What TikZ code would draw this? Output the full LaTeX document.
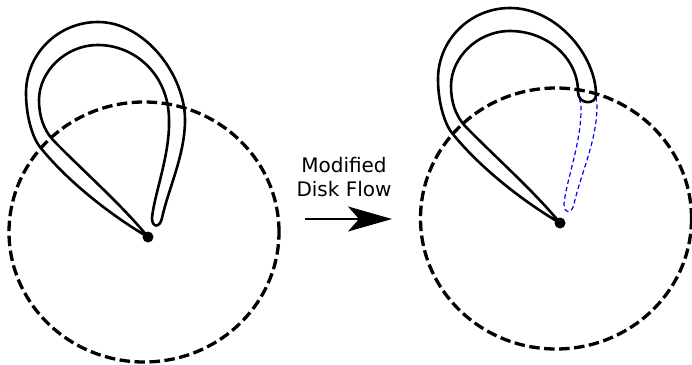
\documentclass[tikz,border=0pt]{standalone}
\usepackage{fontspec}
\setmainfont{DejaVu Sans}
\usetikzlibrary{arrows.meta,shapes.geometric}
\begin{document}
\begin{tikzpicture}[x=1pt,y=-1pt,
  disk/.style={line width=3.3pt,dash pattern=on 10.5pt off 4.5pt},
  band/.style={line width=2.6pt,line join=round,line cap=round},
  hidden/.style={draw=blue,line width=1.2pt,dash pattern=on 4.5pt off 3pt},
  dotmark/.style={circle,fill=black,inner sep=0pt,minimum size=11pt},
  lbl/.style={font=\fontsize{20}{24.5}\selectfont,align=center}]
\useasboundingbox (0,0) rectangle (692,364);

% ---------- left figure ----------
\node[draw,disk,ellipse,minimum width=270pt,minimum height=260pt,inner sep=0pt] (diskL) at (144,232) {};
\draw[band] (148,237) .. controls (112,216) and (68,182) .. (40,147)
  .. controls (32,137) and (26,115) .. (26,93)
  .. controls (26,54) and (58,22) .. (98,22)
  .. controls (145,22) and (185,75) .. (185,120)
  .. controls (185,155) and (168,190) .. (162,218)
  .. controls (160,228) and (152,228) .. (152,218)
  .. controls (154,195) and (170,155) .. (169,120)
  .. controls (169,75) and (135,45) .. (98,45)
  .. controls (65,45) and (39,72) .. (39,100)
  .. controls (39,115) and (43,129) .. (53,140)
  .. controls (81,169) and (122,205) .. (148,237);
\node[dotmark] (pL) at (148,237) {};

% ---------- arrow ----------
\node[lbl] (txt) at (344,177) {Modified\\Disk Flow};
\coordinate (a0) at (305,219);
\coordinate (a1) at (392,219);
\draw[line width=2pt,-{Stealth[length=44pt,width=25pt,inset=11pt]}] (a0) -- (a1);

% ---------- right figure ----------
\begin{scope}[shift={(412,-14)}]
\node[draw,disk,ellipse,minimum width=271pt,minimum height=261pt,inner sep=0pt] (diskR) at (144,232.5) {};
\draw[hidden] (184,111) -- (185,120)
  .. controls (185,155) and (168,190) .. (162,218)
  .. controls (160,228) and (152,228) .. (152,218)
  .. controls (154,195) and (170,155) .. (169,120) -- (167,110);
\draw[band] (148,237) .. controls (112,216) and (68,182) .. (40,147)
  .. controls (32,137) and (26,115) .. (26,93)
  .. controls (26,54) and (58,22) .. (98,22)
  .. controls (145,22) and (184,70) .. (184,109)
  .. controls (184,119) and (166,119) .. (166,106)
  .. controls (166,72) and (135,45) .. (98,45)
  .. controls (65,45) and (39,72) .. (39,100)
  .. controls (39,115) and (43,129) .. (53,140)
  .. controls (81,169) and (122,205) .. (148,237);
\node[dotmark] (pR) at (148,237) {};
\end{scope}
\end{tikzpicture}
\end{document}
